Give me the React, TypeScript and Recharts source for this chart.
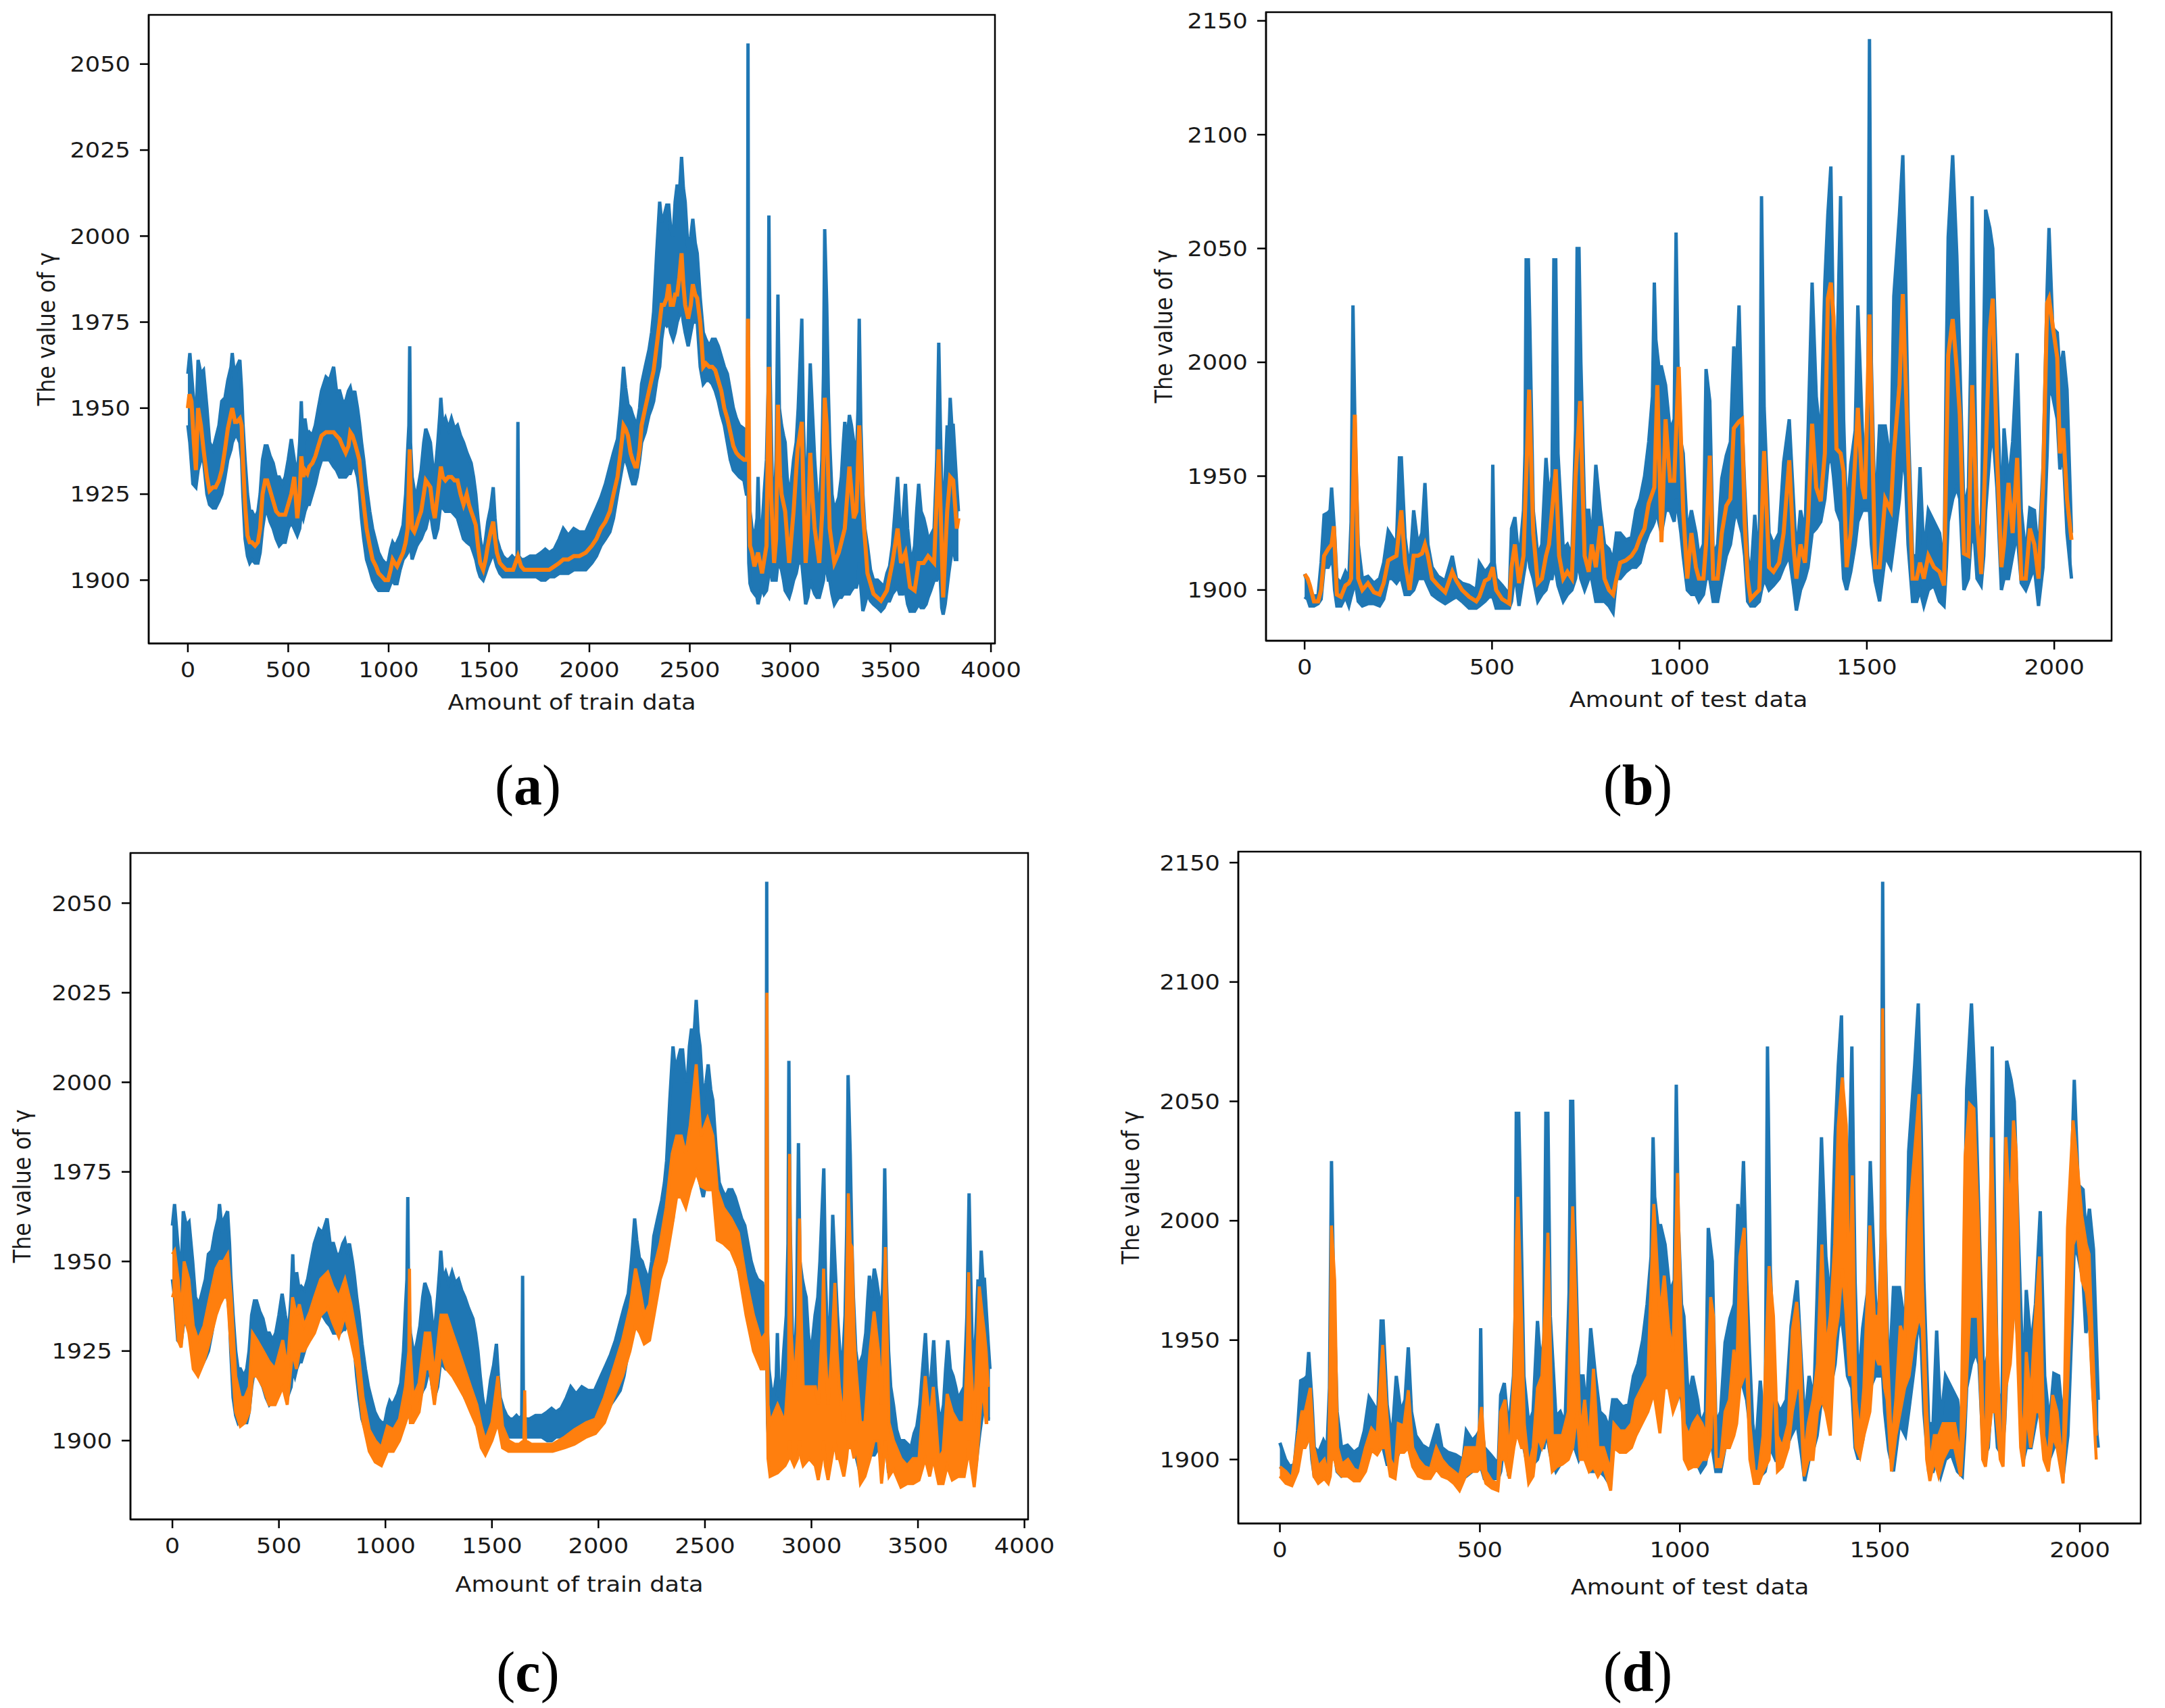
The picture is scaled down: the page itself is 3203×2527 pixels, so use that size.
import React from 'react';
import { ComposedChart, Area, Line, XAxis, YAxis, ReferenceArea } from 'recharts';

const BLUE = '#1f77b4';
const ORANGE = '#ff7f0e';

// tick labels
const trainXTicks = [0, 500, 1000, 1500, 2000, 2500, 3000, 3500, 4000];
const testXTicks = [0, 500, 1000, 1500, 2000];
const trainYTicks = [1900, 1925, 1950, 1975, 2000, 2025, 2050];
const testYTicks = [1900, 1950, 2000, 2050, 2100, 2150];

// actual train values (blue): [index, low, high] of the dense band
const trainActual = [
  [0, 1945, 1960], [10, 1940, 1966], [25, 1928, 1955], [40, 1927, 1945], [51, 1932, 1964], [65, 1935, 1960],
  [78, 1935, 1961], [95, 1925, 1950], [108, 1922, 1940], [125, 1921, 1938], [138, 1921, 1941], [155, 1923, 1945],
  [169, 1925, 1952], [185, 1930, 1953], [199, 1935, 1958], [215, 1938, 1962], [221, 1940, 1966], [235, 1942, 1958],
  [244, 1942, 1962], [259, 1940, 1964], [268, 1935, 1955], [274, 1925, 1946], [285, 1912, 1935], [297, 1907, 1925],
  [308, 1905, 1920], [319, 1906, 1920], [335, 1905, 1918], [349, 1905, 1920], [360, 1908, 1925], [372, 1915, 1935],
  [385, 1920, 1939], [395, 1920, 1939], [410, 1917, 1936], [425, 1915, 1934], [440, 1912, 1930], [455, 1910, 1930],
  [470, 1911, 1928], [485, 1911, 1930], [500, 1915, 1935], [515, 1917, 1941], [530, 1915, 1935], [545, 1913, 1930],
  [557, 1915, 1940], [565, 1920, 1952], [575, 1918, 1935], [583, 1920, 1947], [595, 1922, 1942], [605, 1922, 1943],
  [620, 1925, 1942], [635, 1928, 1945], [650, 1932, 1950], [666, 1935, 1955], [688, 1935, 1959], [705, 1935, 1958],
  [726, 1933, 1962], [740, 1932, 1955], [756, 1930, 1955], [770, 1930, 1952], [786, 1930, 1952], [800, 1931, 1955],
  [809, 1931, 1956], [820, 1933, 1953], [831, 1933, 1955], [845, 1930, 1950], [854, 1926, 1946], [865, 1918, 1940],
  [876, 1912, 1935], [890, 1906, 1927], [906, 1903, 1920], [920, 1900, 1915], [937, 1898, 1911], [950, 1897, 1908],
  [967, 1897, 1906], [982, 1897, 1905], [997, 1897, 1905], [1010, 1899, 1909], [1020, 1900, 1911], [1030, 1899, 1910],
  [1042, 1899, 1911], [1057, 1903, 1913], [1072, 1906, 1916], [1085, 1907, 1925], [1095, 1908, 1938], [1101, 1910, 1945],
  [1105, 1912, 1968], [1109, 1910, 1940], [1117, 1906, 1930], [1128, 1908, 1926], [1140, 1910, 1925], [1150, 1911, 1928],
  [1162, 1912, 1932], [1175, 1914, 1940], [1185, 1915, 1944], [1197, 1918, 1942], [1208, 1920, 1940], [1220, 1915, 1933],
  [1230, 1912, 1930], [1245, 1915, 1940], [1255, 1920, 1948], [1260, 1922, 1953], [1270, 1921, 1945], [1283, 1920, 1947],
  [1298, 1920, 1944], [1313, 1920, 1947], [1328, 1919, 1944], [1343, 1918, 1945], [1358, 1915, 1942], [1373, 1912, 1940],
  [1390, 1911, 1937], [1411, 1910, 1934], [1423, 1908, 1930], [1434, 1906, 1925], [1445, 1903, 1918], [1456, 1901, 1912],
  [1471, 1900, 1907], [1483, 1902, 1912], [1494, 1904, 1917], [1508, 1906, 1921], [1521, 1908, 1927], [1530, 1906, 1918],
  [1539, 1904, 1912], [1554, 1902, 1909], [1569, 1901, 1907], [1585, 1901, 1906], [1599, 1901, 1906], [1615, 1901, 1907],
  [1630, 1901, 1906], [1640, 1901, 1907], [1644, 1901, 1946], [1648, 1901, 1907], [1660, 1901, 1906], [1675, 1901, 1906],
  [1705, 1901, 1907], [1735, 1901, 1907], [1760, 1900, 1908], [1780, 1900, 1909], [1800, 1901, 1908], [1825, 1901, 1909],
  [1850, 1902, 1912], [1870, 1902, 1915], [1895, 1902, 1913], [1922, 1903, 1915], [1950, 1903, 1914], [1982, 1903, 1914],
  [2012, 1905, 1918], [2035, 1907, 1921], [2057, 1910, 1924], [2080, 1912, 1928], [2102, 1914, 1933], [2120, 1918, 1937],
  [2140, 1925, 1941], [2155, 1930, 1950], [2170, 1935, 1962], [2180, 1935, 1956], [2192, 1933, 1951], [2205, 1930, 1950],
  [2215, 1928, 1948], [2228, 1928, 1946], [2237, 1930, 1945], [2250, 1935, 1950], [2260, 1940, 1957], [2278, 1943, 1962],
  [2297, 1948, 1967], [2310, 1950, 1972], [2320, 1952, 1978], [2335, 1958, 1995], [2350, 1962, 2010], [2360, 1970, 2004],
  [2372, 1975, 2006], [2385, 1974, 2009], [2395, 1975, 2009], [2405, 1972, 2002], [2417, 1970, 2000], [2427, 1972, 2010],
  [2437, 1975, 2015], [2448, 1977, 2012], [2459, 1979, 2023], [2468, 1975, 2014], [2477, 1972, 2010], [2492, 1968, 1995],
  [2505, 1972, 2000], [2515, 1975, 2005], [2527, 1975, 1998], [2537, 1975, 1995], [2545, 1968, 1988], [2552, 1962, 1982],
  [2567, 1957, 1972], [2580, 1958, 1970], [2597, 1958, 1968], [2612, 1957, 1970], [2627, 1955, 1970], [2642, 1952, 1968],
  [2657, 1948, 1965], [2672, 1945, 1962], [2687, 1940, 1960], [2702, 1935, 1955], [2717, 1932, 1950], [2732, 1931, 1947],
  [2747, 1930, 1945], [2770, 1929, 1944], [2782, 1925, 1938], [2787, 1925, 1938], [2790, 1925, 2056], [2794, 1905, 1930],
  [2800, 1899, 1920], [2810, 1897, 1915], [2822, 1896, 1912], [2835, 1895, 1918], [2840, 1893, 1930], [2848, 1895, 1912],
  [2860, 1898, 1915], [2870, 1896, 1925], [2882, 1897, 1935], [2890, 1900, 1955], [2894, 1905, 2006], [2900, 1903, 1960],
  [2910, 1900, 1930], [2920, 1900, 1918], [2930, 1900, 1935], [2939, 1905, 1983], [2946, 1905, 1950], [2957, 1903, 1945],
  [2967, 1900, 1942], [2975, 1897, 1940], [2985, 1896, 1930], [2995, 1895, 1925], [3005, 1897, 1928], [3017, 1900, 1935],
  [3030, 1902, 1940], [3040, 1905, 1950], [3058, 1905, 1976], [3066, 1900, 1945], [3077, 1893, 1925], [3088, 1895, 1935],
  [3100, 1900, 1963], [3110, 1898, 1950], [3122, 1896, 1935], [3133, 1895, 1925], [3145, 1895, 1920], [3158, 1898, 1935],
  [3166, 1900, 1960], [3172, 1905, 2002], [3182, 1903, 1980], [3190, 1900, 1955], [3197, 1900, 1940], [3208, 1896, 1925],
  [3220, 1893, 1920], [3230, 1894, 1922], [3242, 1895, 1924], [3255, 1895, 1930], [3265, 1896, 1940], [3272, 1896, 1946],
  [3283, 1896, 1940], [3295, 1896, 1948], [3305, 1897, 1945], [3317, 1898, 1940], [3330, 1898, 1935], [3338, 1900, 1950],
  [3344, 1905, 1976], [3352, 1898, 1945], [3362, 1891, 1925], [3372, 1893, 1915], [3385, 1896, 1910], [3400, 1894, 1903],
  [3415, 1893, 1900], [3435, 1892, 1900], [3452, 1891, 1899], [3467, 1892, 1898], [3482, 1894, 1902], [3495, 1894, 1904],
  [3509, 1896, 1910], [3522, 1897, 1920], [3535, 1898, 1930], [3545, 1896, 1918], [3552, 1896, 1910], [3562, 1896, 1918],
  [3574, 1897, 1928], [3585, 1893, 1915], [3597, 1891, 1908], [3608, 1891, 1906], [3620, 1891, 1910], [3630, 1892, 1920],
  [3640, 1893, 1928], [3652, 1892, 1920], [3665, 1892, 1918], [3677, 1893, 1915], [3687, 1895, 1912], [3700, 1897, 1913],
  [3717, 1900, 1915], [3730, 1900, 1935], [3740, 1902, 1969], [3748, 1900, 1945], [3755, 1892, 1925], [3762, 1890, 1920],
  [3772, 1893, 1930], [3782, 1898, 1945], [3790, 1902, 1940], [3797, 1905, 1953], [3805, 1908, 1945], [3812, 1910, 1945],
  [3822, 1906, 1935], [3830, 1906, 1927], [3838, 1906, 1920],
];

// prediction on train data, panel (a): [index, value]
const trainPredA = [
  [0, 1950], [8, 1954], [18, 1952], [30, 1940], [40, 1932], [51, 1950], [65, 1945], [78, 1938], [95, 1930], [108, 1926],
  [125, 1927], [138, 1927], [155, 1929], [169, 1932], [185, 1938], [199, 1944], [221, 1950], [235, 1946], [244, 1946],
  [259, 1947], [268, 1945], [274, 1935], [285, 1922], [297, 1913], [308, 1911], [319, 1911], [335, 1910], [349, 1911],
  [360, 1915], [372, 1925], [385, 1929], [395, 1929], [410, 1926], [425, 1923], [440, 1920], [455, 1919], [470, 1919],
  [485, 1919], [500, 1922], [515, 1925], [530, 1930], [545, 1918], [557, 1925], [565, 1936], [575, 1930], [583, 1932],
  [595, 1931], [605, 1933], [620, 1934], [635, 1936], [650, 1939], [666, 1942], [688, 1943], [705, 1943], [726, 1943],
  [740, 1942], [756, 1941], [770, 1939], [786, 1937], [800, 1939], [809, 1943], [820, 1942], [831, 1940], [845, 1937],
  [854, 1935], [865, 1928], [876, 1922], [890, 1915], [906, 1910], [920, 1906], [937, 1904], [950, 1902], [967, 1901],
  [982, 1900], [997, 1900], [1010, 1903], [1020, 1906], [1030, 1905], [1042, 1904], [1057, 1906], [1072, 1908],
  [1085, 1911], [1095, 1915], [1105, 1938], [1110, 1925], [1117, 1915], [1128, 1914], [1140, 1916], [1150, 1918],
  [1162, 1920], [1175, 1925], [1185, 1929], [1197, 1928], [1208, 1927], [1220, 1921], [1230, 1918], [1245, 1925],
  [1260, 1933], [1270, 1930], [1283, 1929], [1298, 1930], [1313, 1930], [1328, 1929], [1343, 1929], [1358, 1925],
  [1373, 1922], [1389, 1925], [1400, 1922], [1411, 1920], [1423, 1918], [1434, 1916], [1445, 1910], [1456, 1905],
  [1471, 1903], [1483, 1906], [1494, 1910], [1508, 1914], [1521, 1917], [1530, 1912], [1539, 1908], [1554, 1905],
  [1569, 1904], [1585, 1903], [1599, 1903], [1620, 1903], [1644, 1907], [1660, 1904], [1675, 1903], [1705, 1903],
  [1735, 1903], [1760, 1903], [1780, 1903], [1800, 1903], [1825, 1904], [1850, 1905], [1870, 1906], [1895, 1906],
  [1922, 1907], [1950, 1907], [1982, 1908], [2012, 1910], [2035, 1912], [2057, 1915], [2080, 1917], [2102, 1920],
  [2120, 1925], [2140, 1930], [2155, 1937], [2170, 1945], [2180, 1944], [2192, 1942], [2205, 1937], [2215, 1935],
  [2228, 1933], [2237, 1933], [2250, 1938], [2260, 1945], [2278, 1950], [2297, 1955], [2320, 1961], [2335, 1968],
  [2350, 1975], [2360, 1980], [2372, 1980], [2385, 1982], [2395, 1986], [2405, 1980], [2417, 1980], [2427, 1983],
  [2437, 1983], [2448, 1988], [2459, 1995], [2468, 1986], [2477, 1980], [2492, 1976], [2505, 1980], [2515, 1986],
  [2527, 1983], [2537, 1982], [2552, 1975], [2567, 1962], [2580, 1963], [2597, 1962], [2612, 1962], [2627, 1961],
  [2642, 1958], [2657, 1955], [2672, 1950], [2687, 1947], [2702, 1943], [2717, 1939], [2732, 1937], [2747, 1936],
  [2770, 1935], [2785, 1935], [2790, 1976], [2796, 1925], [2800, 1910], [2810, 1908], [2822, 1904], [2840, 1908],
  [2860, 1902], [2882, 1910], [2894, 1962], [2905, 1925], [2920, 1905], [2930, 1912], [2939, 1951], [2950, 1930],
  [2957, 1925], [2975, 1920], [2995, 1905], [3017, 1920], [3037, 1938], [3058, 1946], [3066, 1925], [3077, 1905],
  [3088, 1915], [3100, 1937], [3110, 1925], [3122, 1915], [3145, 1905], [3160, 1920], [3172, 1953], [3182, 1945],
  [3197, 1915], [3220, 1905], [3242, 1908], [3272, 1915], [3295, 1933], [3317, 1918], [3330, 1920], [3344, 1945],
  [3355, 1930], [3362, 1920], [3385, 1902], [3415, 1896], [3452, 1894], [3482, 1897], [3509, 1905], [3535, 1915],
  [3552, 1905], [3574, 1908], [3597, 1898], [3620, 1897], [3640, 1905], [3665, 1905], [3687, 1907], [3717, 1905],
  [3740, 1938], [3752, 1915], [3762, 1895], [3782, 1920], [3797, 1930], [3812, 1929], [3830, 1915], [3838, 1918],
];

// prediction on train data, panel (c): [index, low, high]
const trainPredC = [
  [0, 1940, 1952], [10, 1942, 1953], [27, 1928, 1945], [41, 1926, 1935], [55, 1935, 1950], [77, 1930, 1945],
  [98, 1920, 1932], [120, 1918, 1928], [148, 1922, 1932], [176, 1928, 1940], [205, 1935, 1948], [223, 1938, 1950],
  [240, 1940, 1950], [259, 1940, 1952], [276, 1925, 1940], [297, 1908, 1918], [319, 1904, 1912], [340, 1905, 1912],
  [361, 1908, 1915], [376, 1918, 1930], [397, 1918, 1928], [426, 1915, 1925], [454, 1910, 1922], [482, 1910, 1920],
  [518, 1915, 1928], [539, 1910, 1920], [564, 1925, 1940], [582, 1920, 1935], [596, 1925, 1938], [618, 1925, 1932],
  [646, 1928, 1936], [667, 1930, 1940], [696, 1935, 1945], [729, 1937, 1947], [753, 1933, 1943], [781, 1929, 1940],
  [810, 1935, 1945], [838, 1928, 1938], [867, 1920, 1928], [895, 1905, 1912], [924, 1897, 1903], [952, 1894, 1900],
  [981, 1893, 1898], [1009, 1897, 1904], [1037, 1897, 1903], [1066, 1900, 1906], [1094, 1905, 1915], [1110, 1908, 1925],
  [1113, 1910, 1948], [1117, 1905, 1925], [1130, 1905, 1912], [1158, 1908, 1916], [1187, 1920, 1930], [1208, 1920, 1930],
  [1230, 1910, 1918], [1261, 1925, 1935], [1287, 1920, 1935], [1315, 1918, 1930], [1344, 1915, 1925], [1372, 1912, 1920],
  [1400, 1908, 1915], [1429, 1904, 1910], [1450, 1898, 1904], [1469, 1896, 1900], [1500, 1900, 1905], [1528, 1905, 1918],
  [1550, 1898, 1904], [1578, 1897, 1900], [1607, 1897, 1899], [1628, 1897, 1899], [1650, 1897, 1900], [1654, 1897, 1914],
  [1658, 1897, 1900], [1685, 1897, 1899], [1742, 1897, 1899], [1785, 1897, 1899], [1842, 1898, 1901], [1887, 1899, 1903],
  [1943, 1901, 1905], [1986, 1902, 1906], [2028, 1905, 1912], [2071, 1912, 1920], [2113, 1918, 1928], [2148, 1925, 1937],
  [2174, 1932, 1948], [2195, 1930, 1942], [2215, 1927, 1935], [2240, 1928, 1938], [2261, 1935, 1948], [2290, 1945, 1955],
  [2318, 1950, 1965], [2346, 1960, 1980], [2367, 1968, 1985], [2389, 1968, 1985], [2410, 1965, 1980], [2431, 1970, 1988],
  [2459, 1975, 2005], [2481, 1971, 1985], [2512, 1970, 1990], [2537, 1970, 1985], [2558, 1956, 1970], [2587, 1955, 1965],
  [2622, 1953, 1962], [2657, 1948, 1958], [2693, 1935, 1945], [2728, 1925, 1935], [2763, 1920, 1928], [2786, 1920, 1930],
  [2791, 1920, 2025], [2796, 1895, 1910], [2806, 1890, 1905], [2841, 1891, 1910], [2876, 1893, 1905], [2893, 1895, 1920],
  [2897, 1900, 1980], [2905, 1895, 1930], [2919, 1893, 1915], [2935, 1895, 1930], [2944, 1900, 1962], [2952, 1895, 1935],
  [2961, 1893, 1915], [2989, 1895, 1915], [3018, 1893, 1915], [3032, 1889, 1910], [3050, 1895, 1930], [3057, 1900, 1948],
  [3065, 1893, 1925], [3078, 1889, 1910], [3095, 1895, 1925], [3110, 1900, 1944], [3120, 1895, 1925], [3131, 1895, 1915],
  [3152, 1890, 1905], [3165, 1895, 1940], [3173, 1900, 1969], [3182, 1898, 1955], [3190, 1898, 1954], [3200, 1895, 1930],
  [3209, 1900, 1920], [3230, 1888, 1905], [3251, 1890, 1905], [3275, 1895, 1925], [3294, 1900, 1936], [3315, 1900, 1925],
  [3329, 1888, 1910], [3340, 1895, 1935], [3347, 1900, 1954], [3355, 1895, 1930], [3364, 1890, 1905], [3385, 1892, 1900],
  [3420, 1887, 1895], [3449, 1888, 1893], [3477, 1888, 1895], [3505, 1889, 1895], [3534, 1895, 1918], [3555, 1890, 1905],
  [3572, 1895, 1915], [3597, 1888, 1895], [3618, 1888, 1897], [3637, 1893, 1913], [3661, 1889, 1908], [3689, 1890, 1905],
  [3717, 1890, 1905], [3732, 1895, 1925], [3738, 1900, 1947], [3745, 1895, 1925], [3764, 1887, 1905], [3778, 1895, 1925],
  [3788, 1905, 1943], [3802, 1915, 1935], [3812, 1910, 1930], [3820, 1905, 1925], [3830, 1905, 1915],
];

// actual test values (blue): [index, low, high]
const testActual = [
  [0, 1897, 1907], [8, 1896, 1903], [14, 1893, 1900], [25, 1893, 1897], [36, 1894, 1898], [44, 1896, 1912],
  [52, 1910, 1933], [63, 1910, 1934], [68, 1912, 1935], [72, 1915, 1945], [76, 1910, 1935], [80, 1900, 1925],
  [86, 1893, 1905], [97, 1893, 1903], [109, 1897, 1908], [118, 1893, 1905], [124, 1897, 1930], [129, 1900, 2025],
  [134, 1905, 1975], [143, 1895, 1920], [154, 1893, 1905], [169, 1894, 1906], [185, 1894, 1903], [200, 1893, 1905],
  [211, 1896, 1912], [223, 1905, 1926], [234, 1905, 1923], [245, 1903, 1920], [253, 1905, 1958], [258, 1905, 1958],
  [268, 1898, 1923], [280, 1898, 1908], [291, 1900, 1935], [302, 1905, 1920], [313, 1905, 1925], [321, 1905, 1947],
  [329, 1902, 1920], [340, 1898, 1910], [356, 1896, 1906], [375, 1894, 1904], [394, 1896, 1915], [405, 1897, 1905],
  [420, 1895, 1903], [439, 1892, 1902], [458, 1892, 1900], [466, 1893, 1912], [481, 1895, 1908], [492, 1897, 1910],
  [499, 1897, 1912], [502, 1897, 1955], [506, 1895, 1912], [511, 1892, 1905], [527, 1892, 1902], [546, 1892, 1898],
  [552, 1895, 1927], [561, 1908, 1932], [572, 1893, 1912], [584, 1906, 1935], [588, 1910, 1960], [591, 1915, 2045],
  [597, 1915, 2045], [601, 1910, 2015], [610, 1905, 1935], [622, 1895, 1915], [633, 1898, 1920], [644, 1900, 1958],
  [652, 1905, 1940], [660, 1905, 1950], [665, 1910, 2045], [670, 1908, 2045], [676, 1902, 1960], [690, 1895, 1918],
  [701, 1898, 1920], [713, 1900, 1915], [723, 1905, 1970], [727, 1910, 2050], [732, 1910, 2050], [737, 1905, 2000],
  [747, 1900, 1935], [758, 1905, 1935], [766, 1905, 1920], [777, 1895, 1955], [789, 1895, 1935], [800, 1895, 1920],
  [812, 1893, 1918], [823, 1890, 1913], [832, 1905, 1925], [842, 1905, 1925], [857, 1908, 1922], [872, 1910, 1923],
  [884, 1910, 1935], [895, 1912, 1940], [907, 1920, 1950], [918, 1925, 1965], [928, 1928, 1985], [933, 1930, 2035],
  [937, 1935, 2010], [945, 1930, 1998], [952, 1925, 1998], [963, 1935, 1990], [975, 1935, 1970], [986, 1930, 1975],
  [991, 1940, 2057], [996, 1935, 2000], [1004, 1925, 1965], [1010, 1915, 1960], [1021, 1900, 1925], [1032, 1898, 1935],
  [1044, 1898, 1925], [1052, 1895, 1915], [1064, 1898, 1920], [1071, 1905, 1997], [1081, 1905, 1983], [1090, 1895, 1915],
  [1102, 1895, 1920], [1113, 1905, 1949], [1125, 1915, 1959], [1136, 1920, 1965], [1145, 1930, 2007], [1152, 1935, 1995],
  [1159, 1930, 2025], [1167, 1925, 1975], [1174, 1915, 1945], [1182, 1895, 1915], [1190, 1893, 1905], [1201, 1893, 1933],
  [1213, 1895, 1908], [1219, 1900, 2073], [1226, 1905, 1980], [1239, 1900, 1925], [1251, 1902, 1920], [1266, 1905, 1925],
  [1278, 1910, 1956], [1293, 1915, 1975], [1304, 1902, 1940], [1312, 1891, 1915], [1323, 1900, 1935], [1335, 1905, 1925],
  [1343, 1910, 1968], [1354, 1925, 2035], [1365, 1927, 1985], [1377, 1930, 1965], [1388, 1940, 2035], [1396, 1955, 2065],
  [1404, 1960, 2086], [1411, 1950, 2010], [1419, 1935, 1990], [1430, 1930, 2073], [1438, 1905, 1975], [1446, 1900, 1930],
  [1457, 1908, 1955], [1469, 1920, 1970], [1476, 1930, 2025], [1488, 1935, 1970], [1495, 1935, 1950], [1503, 1935, 1990],
  [1507, 1935, 2142], [1512, 1920, 2000], [1522, 1904, 1930], [1534, 1895, 1972], [1549, 1915, 1972], [1564, 1910, 1955],
  [1572, 1920, 2029], [1587, 1940, 2065], [1596, 1960, 2091], [1603, 1950, 2040], [1610, 1920, 1975], [1622, 1895, 1915],
  [1633, 1895, 1915], [1642, 1900, 1954], [1652, 1893, 1915], [1664, 1900, 1935], [1679, 1902, 1930], [1694, 1895, 1925],
  [1706, 1893, 1910], [1712, 1910, 2000], [1717, 1930, 2055], [1729, 1940, 2091], [1740, 1945, 2047], [1748, 1940, 2000],
  [1759, 1900, 1935], [1771, 1905, 1945], [1777, 1920, 2000], [1781, 1925, 2073], [1788, 1920, 1990], [1794, 1905, 1930],
  [1805, 1902, 1920], [1812, 1915, 2010], [1817, 1935, 2067], [1828, 1960, 2059], [1836, 1970, 2050], [1847, 1945, 1990],
  [1859, 1900, 1930], [1866, 1905, 1971], [1878, 1905, 1947], [1889, 1915, 1965], [1901, 1925, 2004], [1912, 1903, 1935],
  [1924, 1900, 1915], [1935, 1905, 1936], [1947, 1910, 1935], [1958, 1893, 1915], [1970, 1910, 1954], [1981, 1960, 2032],
  [1986, 1990, 2059], [1996, 1985, 2015], [2008, 1975, 2013], [2015, 1953, 1995], [2024, 1960, 2005], [2034, 1925, 1988],
  [2046, 1905, 1925],
];

// prediction on test data, panel (b): [index, value]
const testPredB = [
  [0, 1907], [8, 1905], [14, 1902], [25, 1895], [36, 1895], [44, 1900], [52, 1915], [63, 1918], [72, 1920], [78, 1928],
  [86, 1898], [97, 1897], [109, 1902], [118, 1903], [124, 1905], [134, 1977], [143, 1905], [154, 1900], [169, 1903],
  [185, 1899], [200, 1898], [211, 1903], [223, 1913], [234, 1914], [245, 1915], [258, 1935], [268, 1912], [280, 1900],
  [291, 1915], [302, 1915], [313, 1916], [321, 1920], [329, 1915], [340, 1905], [356, 1902], [375, 1899], [394, 1908],
  [405, 1904], [420, 1900], [439, 1897], [458, 1895], [466, 1897], [481, 1904], [492, 1905], [502, 1910], [511, 1900],
  [527, 1896], [546, 1894], [552, 1910], [561, 1920], [572, 1903], [584, 1915], [599, 1988], [610, 1925], [622, 1903],
  [633, 1905], [644, 1915], [652, 1920], [670, 1953], [679, 1915], [690, 1905], [701, 1908], [713, 1905], [723, 1950],
  [735, 1983], [747, 1915], [758, 1908], [766, 1920], [777, 1910], [789, 1928], [800, 1905], [812, 1900], [823, 1898],
  [832, 1905], [842, 1912], [857, 1913], [872, 1915], [884, 1918], [895, 1923], [907, 1927], [918, 1938], [933, 1945],
  [941, 1990], [952, 1921], [963, 1975], [975, 1948], [986, 1948], [998, 1998], [1010, 1935], [1021, 1905], [1032, 1925],
  [1044, 1910], [1052, 1905], [1064, 1905], [1071, 1920], [1081, 1959], [1090, 1905], [1102, 1905], [1113, 1925],
  [1125, 1937], [1136, 1940], [1145, 1971], [1159, 1974], [1167, 1975], [1174, 1930], [1182, 1905], [1190, 1896],
  [1201, 1898], [1213, 1900], [1226, 1961], [1239, 1910], [1251, 1908], [1266, 1912], [1278, 1925], [1293, 1957],
  [1304, 1920], [1312, 1905], [1323, 1920], [1335, 1912], [1343, 1930], [1354, 1973], [1365, 1945], [1377, 1939],
  [1388, 1960], [1396, 2028], [1404, 2035], [1411, 2020], [1419, 1962], [1430, 1960], [1438, 1952], [1446, 1910],
  [1457, 1925], [1469, 1958], [1476, 1980], [1488, 1945], [1495, 1940], [1507, 2021], [1522, 1910], [1534, 1910],
  [1549, 1940], [1564, 1935], [1572, 1960], [1587, 1990], [1596, 2030], [1610, 1960], [1622, 1905], [1633, 1905],
  [1642, 1912], [1652, 1905], [1664, 1915], [1679, 1910], [1694, 1908], [1706, 1902], [1717, 2003], [1729, 2019],
  [1740, 1997], [1748, 1977], [1759, 1916], [1771, 1915], [1781, 1990], [1794, 1930], [1805, 1907], [1817, 1960],
  [1828, 2014], [1836, 2028], [1847, 1960], [1859, 1910], [1866, 1920], [1878, 1947], [1889, 1925], [1901, 1958],
  [1912, 1905], [1924, 1905], [1935, 1927], [1947, 1920], [1958, 1905], [1970, 1945], [1981, 2026], [1986, 2028],
  [1996, 2016], [2008, 2002], [2015, 1960], [2024, 1971], [2034, 1940], [2046, 1922],
];

// prediction on test data, panel (d): [index, low, high]
const testPredD = [
  [0, 1893, 1897], [15, 1890, 1895], [30, 1889, 1892], [45, 1895, 1910], [55, 1905, 1920], [63, 1905, 1920],
  [76, 1910, 1930], [85, 1893, 1905], [96, 1890, 1897], [111, 1892, 1900], [121, 1890, 1893], [126, 1893, 1940],
  [129, 1900, 1998], [137, 1900, 1975], [144, 1895, 1905], [155, 1893, 1898], [170, 1893, 1900], [185, 1891, 1896],
  [199, 1891, 1895], [214, 1895, 1905], [229, 1904, 1913], [243, 1902, 1910], [254, 1905, 1940], [257, 1905, 1948],
  [265, 1905, 1925], [276, 1893, 1900], [288, 1892, 1896], [296, 1903, 1915], [310, 1903, 1914], [321, 1905, 1929],
  [332, 1897, 1905], [346, 1893, 1900], [361, 1892, 1897], [376, 1892, 1896], [391, 1896, 1905], [405, 1893, 1900],
  [420, 1892, 1897], [435, 1890, 1895], [449, 1887, 1893], [464, 1893, 1905], [479, 1895, 1905], [493, 1895, 1905],
  [504, 1897, 1922], [515, 1890, 1895], [530, 1888, 1891], [545, 1887, 1890], [552, 1900, 1920], [563, 1900, 1925],
  [574, 1892, 1900], [585, 1905, 1935], [591, 1910, 1990], [595, 1910, 2010], [604, 1905, 1960], [611, 1905, 1915],
  [622, 1890, 1897], [633, 1893, 1905], [644, 1910, 1930], [655, 1905, 1935], [665, 1910, 1970], [670, 1910, 1995],
  [681, 1895, 1910], [692, 1897, 1910], [706, 1898, 1910], [721, 1900, 1920], [732, 1905, 2006], [743, 1920, 1950],
  [751, 1900, 1910], [762, 1900, 1925], [773, 1895, 1905], [784, 1897, 1938], [795, 1893, 1905], [809, 1897, 1905],
  [827, 1887, 1895], [835, 1905, 1915], [850, 1903, 1912], [865, 1903, 1912], [879, 1905, 1915], [890, 1910, 1925],
  [905, 1915, 1930], [920, 1920, 1935], [935, 1928, 2007], [950, 1911, 1960], [961, 1930, 1977], [972, 1930, 1955],
  [983, 1920, 1945], [994, 1925, 2020], [1004, 1930, 1950], [1011, 1900, 1915], [1022, 1896, 1910], [1033, 1897, 1915],
  [1044, 1897, 1918], [1055, 1900, 1915], [1066, 1900, 1910], [1077, 1905, 1968], [1084, 1940, 1960], [1091, 1897, 1900],
  [1102, 1897, 1900], [1113, 1905, 1920], [1124, 1905, 1925], [1135, 1910, 1946], [1142, 1915, 1935], [1150, 1930, 1985],
  [1161, 1935, 1997], [1168, 1935, 1950], [1175, 1900, 1915], [1186, 1890, 1895], [1197, 1890, 1895], [1208, 1895, 1910],
  [1223, 1900, 1981], [1234, 1940, 1960], [1244, 1895, 1910], [1256, 1897, 1905], [1271, 1905, 1915], [1281, 1920, 1954],
  [1292, 1930, 1966], [1300, 1930, 1950], [1310, 1893, 1900], [1321, 1900, 1915], [1333, 1900, 1925], [1344, 1920, 1940],
  [1355, 1925, 1990], [1365, 1920, 1945], [1376, 1910, 1960], [1387, 1950, 1990], [1396, 1960, 2040], [1406, 1980, 2060],
  [1416, 1960, 2040], [1424, 1935, 1960], [1431, 1940, 2019], [1440, 1905, 1925], [1450, 1901, 1910], [1460, 1910, 1930],
  [1475, 1920, 1998], [1486, 1945, 1960], [1497, 1940, 1960], [1503, 1940, 1990], [1507, 1940, 2089], [1512, 1930, 2000],
  [1518, 1925, 1950], [1529, 1895, 1905], [1540, 1910, 1925], [1551, 1920, 1956], [1562, 1930, 1950], [1573, 1935, 2000],
  [1585, 1950, 2025], [1598, 1960, 2053], [1606, 1955, 1975], [1617, 1900, 1920], [1625, 1891, 1897], [1636, 1900, 1910],
  [1647, 1893, 1910], [1658, 1900, 1915], [1673, 1905, 1915], [1687, 1905, 1915], [1702, 1893, 1900], [1713, 1920, 2027],
  [1724, 1960, 2049], [1735, 1960, 2047], [1746, 1960, 2000], [1757, 1900, 1920], [1764, 1897, 1900], [1779, 1920, 2035],
  [1790, 1920, 1960], [1801, 1900, 1910], [1808, 1897, 1905], [1815, 1930, 2035], [1826, 1940, 2000], [1834, 1960, 2042],
  [1841, 1960, 2029], [1852, 1905, 1920], [1859, 1897, 1905], [1866, 1920, 1945], [1877, 1905, 1925], [1888, 1920, 1958],
  [1899, 1920, 1985], [1910, 1900, 1910], [1921, 1895, 1900], [1932, 1910, 1927], [1943, 1905, 1920], [1958, 1890, 1895],
  [1969, 1930, 1997], [1983, 1990, 2042], [1994, 1995, 2023], [2005, 1975, 2002], [2016, 1970, 1990], [2023, 1960, 1986],
  [2030, 1935, 1955], [2041, 1900, 1910],
];

const toBand = (rows: number[][]) => rows.map(([x, lo, hi]) => ({ x, band: [lo, hi] }));
const toLine = (rows: number[][]) => rows.map(([x, v]) => ({ x, v }));

const FONT = '"DejaVu Sans", sans-serif';
const INK = '#1a1a1a';
const FS = 32;
const STRETCH = 1.1; // the reference figure is slightly stretched horizontally

function XTick(props: any) {
  const { x, y, payload } = props;
  return (
    <text
      x={x}
      y={y}
      dy="0.71em"
      textAnchor="middle"
      fill={INK}
      fontSize={FS}
      fontFamily={FONT}
      transform={`translate(${x} ${y}) scale(${STRETCH} 1) translate(${-x} ${-y})`}
    >
      {payload.value}
    </text>
  );
}

function YTick(props: any) {
  const { x, y, payload } = props;
  return (
    <text
      x={x}
      y={y}
      dy="0.355em"
      textAnchor="end"
      fill={INK}
      fontSize={FS}
      fontFamily={FONT}
      transform={`translate(${x} ${y}) scale(${STRETCH} 1) translate(${-x} ${-y})`}
    >
      {payload.value}
    </text>
  );
}

type Box = { x: number; y: number; w: number; h: number };
type Frame = { left: number; right: number; top: number; bottom: number };

function Panel(props: {
  box: Box; frame: Frame; xDomain: number[]; yDomain: number[]; xTicks: number[]; yTicks: number[];
  blue: any[]; orangeLine?: any[]; orangeBand?: any[];
}) {
  const { box, frame, xDomain, yDomain, xTicks, yTicks, blue, orangeLine, orangeBand } = props;
  return (
    <div style={{ position: 'absolute', left: box.x, top: box.y, width: box.w, height: box.h }}>
      <ComposedChart
        width={box.w}
        height={box.h}
        margin={{ top: frame.top - box.y, right: box.x + box.w - frame.right, left: 0, bottom: 0 }}
      >
        <XAxis
          type="number"
          dataKey="x"
          domain={xDomain}
          ticks={xTicks}
          interval={0}
          allowDataOverflow
          height={box.y + box.h - frame.bottom}
          tickSize={13}
          tickMargin={14}
          tick={<XTick />}
          axisLine={{ stroke: '#000', strokeWidth: 2.5 }}
          tickLine={{ stroke: '#000', strokeWidth: 2.5 }}
        />
        <YAxis
          type="number"
          domain={yDomain}
          ticks={yTicks}
          interval={0}
          allowDataOverflow
          width={frame.left - box.x}
          tickSize={13}
          tickMargin={14}
          tick={<YTick />}
          axisLine={{ stroke: '#000', strokeWidth: 2.5 }}
          tickLine={{ stroke: '#000', strokeWidth: 2.5 }}
        />
        <Area
          data={blue}
          dataKey="band"
          type="linear"
          stroke={BLUE}
          strokeWidth={5}
          fill={BLUE}
          fillOpacity={1}
          dot={false}
          activeDot={false}
          isAnimationActive={false}
        />
        {orangeBand ? (
          <Area
            data={orangeBand}
            dataKey="band"
            type="linear"
            stroke={ORANGE}
            strokeWidth={4.5}
            fill={ORANGE}
            fillOpacity={1}
            dot={false}
            activeDot={false}
            isAnimationActive={false}
          />
        ) : null}
        {orangeLine ? (
          <Line
            data={orangeLine}
            dataKey="v"
            type="linear"
            stroke={ORANGE}
            strokeWidth={6}
            dot={false}
            activeDot={false}
            isAnimationActive={false}
          />
        ) : null}
        <ReferenceArea
          x1={xDomain[0]}
          x2={xDomain[1]}
          y1={yDomain[0]}
          y2={yDomain[1]}
          fill="none"
          stroke="#000"
          strokeWidth={2.5}
          ifOverflow="visible"
        />
      </ComposedChart>
    </div>
  );
}

function Label(props: { x: number; y: number; text: string; rotate?: boolean }) {
  return (
    <div
      style={{
        position: 'absolute', left: props.x, top: props.y, whiteSpace: 'nowrap',
        transform: `translate(-50%, -50%) scaleX(${STRETCH})${props.rotate ? ' rotate(-90deg)' : ''}`,
        fontFamily: FONT, fontSize: FS, color: INK, lineHeight: 1,
      }}
    >
      {props.text}
    </div>
  );
}

function Caption(props: { x: number; y: number; letter: string }) {
  return (
    <div
      style={{
        position: 'absolute', left: props.x, top: props.y, transform: 'translate(-50%, -50%)',
        fontFamily: '"Liberation Serif", serif', fontSize: 84, color: '#000', lineHeight: 1, whiteSpace: 'nowrap',
      }}
    >
      (<b>{props.letter}</b>)
    </div>
  );
}

export default function App() {
  const trainBlue = toBand(trainActual);
  const testBlue = toBand(testActual);
  return (
    <div style={{ position: 'absolute', left: 0, top: 0, width: 3203, height: 2527, background: '#fff', overflow: 'hidden' }}>
      <Panel
        box={{ x: 0, y: 0, w: 1580, h: 1050 }}
        frame={{ left: 220, right: 1472, top: 22, bottom: 952 }}
        xDomain={[-195, 4020]}
        yDomain={[1881.6, 2064.3]}
        xTicks={trainXTicks}
        yTicks={trainYTicks}
        blue={trainBlue}
        orangeLine={toLine(trainPredA)}
      />
      <Panel
        box={{ x: 1680, y: 0, w: 1523, h: 1050 }}
        frame={{ left: 1873, right: 3124, top: 18, bottom: 948 }}
        xDomain={[-103, 2153]}
        yDomain={[1877.7, 2153.8]}
        xTicks={testXTicks}
        yTicks={testYTicks}
        blue={testBlue}
        orangeLine={toLine(testPredB)}
      />
      <Panel
        box={{ x: 0, y: 1230, w: 1600, h: 1110 }}
        frame={{ left: 193, right: 1521, top: 1262, bottom: 2248 }}
        xDomain={[-197, 4017]}
        yDomain={[1878, 2064]}
        xTicks={trainXTicks}
        yTicks={trainYTicks}
        blue={trainBlue}
        orangeBand={toBand(trainPredC)}
      />
      <Panel
        box={{ x: 1680, y: 1230, w: 1523, h: 1110 }}
        frame={{ left: 1832, right: 3167, top: 1260, bottom: 2254 }}
        xDomain={[-104, 2152]}
        yDomain={[1873.2, 2154.6]}
        xTicks={testXTicks}
        yTicks={testYTicks}
        blue={testBlue}
        orangeBand={toBand(testPredD)}
      />

      <Label x={846} y={1039} text="Amount of train data" />
      <Label x={2498} y={1035} text="Amount of test data" />
      <Label x={857} y={2344} text="Amount of train data" />
      <Label x={2500} y={2348} text="Amount of test data" />

      <Label x={69} y={487} text="The value of γ" rotate />
      <Label x={1722} y={483} text="The value of γ" rotate />
      <Label x={33} y={1755} text="The value of γ" rotate />
      <Label x={1673} y={1757} text="The value of γ" rotate />

      <Caption x={781} y={1162} letter="a" />
      <Caption x={2423} y={1162} letter="b" />
      <Caption x={781} y={2474} letter="c" />
      <Caption x={2423} y={2474} letter="d" />
    </div>
  );
}
